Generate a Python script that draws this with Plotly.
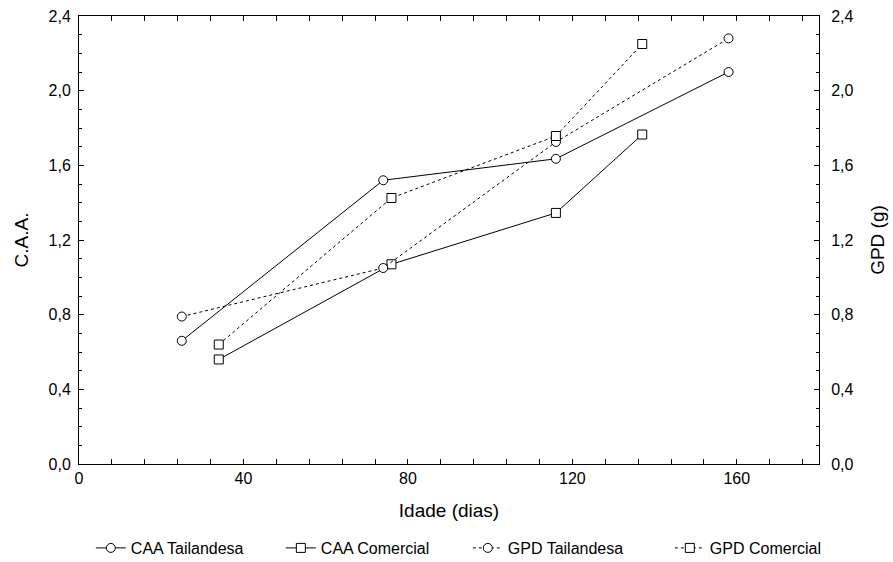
import plotly.graph_objects as go

# Data
idade_tai = [25, 74, 116, 158]
idade_com = [34, 76, 116, 137]
caa_tailandesa = [0.66, 1.52, 1.635, 2.10]
caa_comercial = [0.56, 1.07, 1.345, 1.765]
gpd_tailandesa = [0.79, 1.05, 1.725, 2.28]
gpd_comercial = [0.64, 1.425, 1.757, 2.25]

x_ticks = [0, 40, 80, 120, 160]
y_ticks = [0.0, 0.4, 0.8, 1.2, 1.6, 2.0, 2.4]

FONT = "Liberation Sans, Arial, sans-serif"

def mk(sym):
    return dict(symbol=sym, size=9, color="white", line=dict(color="black", width=1))

fig = go.Figure()
fig.add_trace(go.Scatter(x=idade_tai, y=caa_tailandesa, name="CAA Tailandesa",
                         mode="lines+markers", line=dict(color="black", width=1),
                         marker=mk("circle"), legendwidth=145))
fig.add_trace(go.Scatter(x=idade_com, y=caa_comercial, name="CAA Comercial",
                         mode="lines+markers", line=dict(color="black", width=1),
                         marker=mk("square"), legendwidth=142))
fig.add_trace(go.Scatter(x=idade_tai, y=gpd_tailandesa, name="GPD Tailandesa",
                         mode="lines+markers", yaxis="y2",
                         line=dict(color="black", width=1, dash="3px,3px"),
                         marker=mk("circle"), legendwidth=157))
fig.add_trace(go.Scatter(x=idade_com, y=gpd_comercial, name="GPD Comercial",
                         mode="lines+markers", yaxis="y2",
                         line=dict(color="black", width=1, dash="3px,3px"),
                         marker=mk("square"), legendwidth=112))

axis_common = dict(showgrid=False, zeroline=False, showline=True, linecolor="black",
                   linewidth=1, ticks="inside", ticklen=5, tickcolor="black",
                   tickfont=dict(family=FONT, size=16, color="black"))

fig.update_layout(
    width=893, height=562,
    margin=dict(l=79, r=74, t=16, b=98, autoexpand=False),
    paper_bgcolor="white", plot_bgcolor="white",
    separators=",.",
    font=dict(family=FONT, color="black"),
    showlegend=True,
    legend=dict(orientation="h", x=0.016, xanchor="left", y=-0.1875, yanchor="middle",
                font=dict(family=FONT, size=16, color="black"),
                itemwidth=30, traceorder="normal"),
    xaxis=dict(range=[0, 180], tickvals=x_ticks, mirror="allticks",
               title=dict(text="Idade (dias)", font=dict(family=FONT, size=19), standoff=17),
               minor=dict(dtick=8, tick0=0, ticks="inside", ticklen=3, tickcolor="black"),
               **axis_common),
    yaxis=dict(range=[0, 2.4], tickvals=y_ticks, tickformat=".1f", ticklabelstandoff=4,
               title=dict(text="C.A.A.", font=dict(family=FONT, size=19), standoff=14),
               minor=dict(dtick=0.1, tick0=0, ticks="inside", ticklen=3, tickcolor="black"),
               **axis_common),
    yaxis2=dict(range=[0, 2.4], tickvals=y_ticks, tickformat=".1f", overlaying="y",
                side="right", anchor="x", ticklabelstandoff=8,
                title=dict(text="GPD (g)", font=dict(family=FONT, size=19), standoff=18),
                minor=dict(dtick=0.1, tick0=0, ticks="inside", ticklen=3, tickcolor="black"),
                **axis_common),
)

fig.write_html("out.html", config={"displayModeBar": False},
               post_script="document.body.style.margin='0';")
